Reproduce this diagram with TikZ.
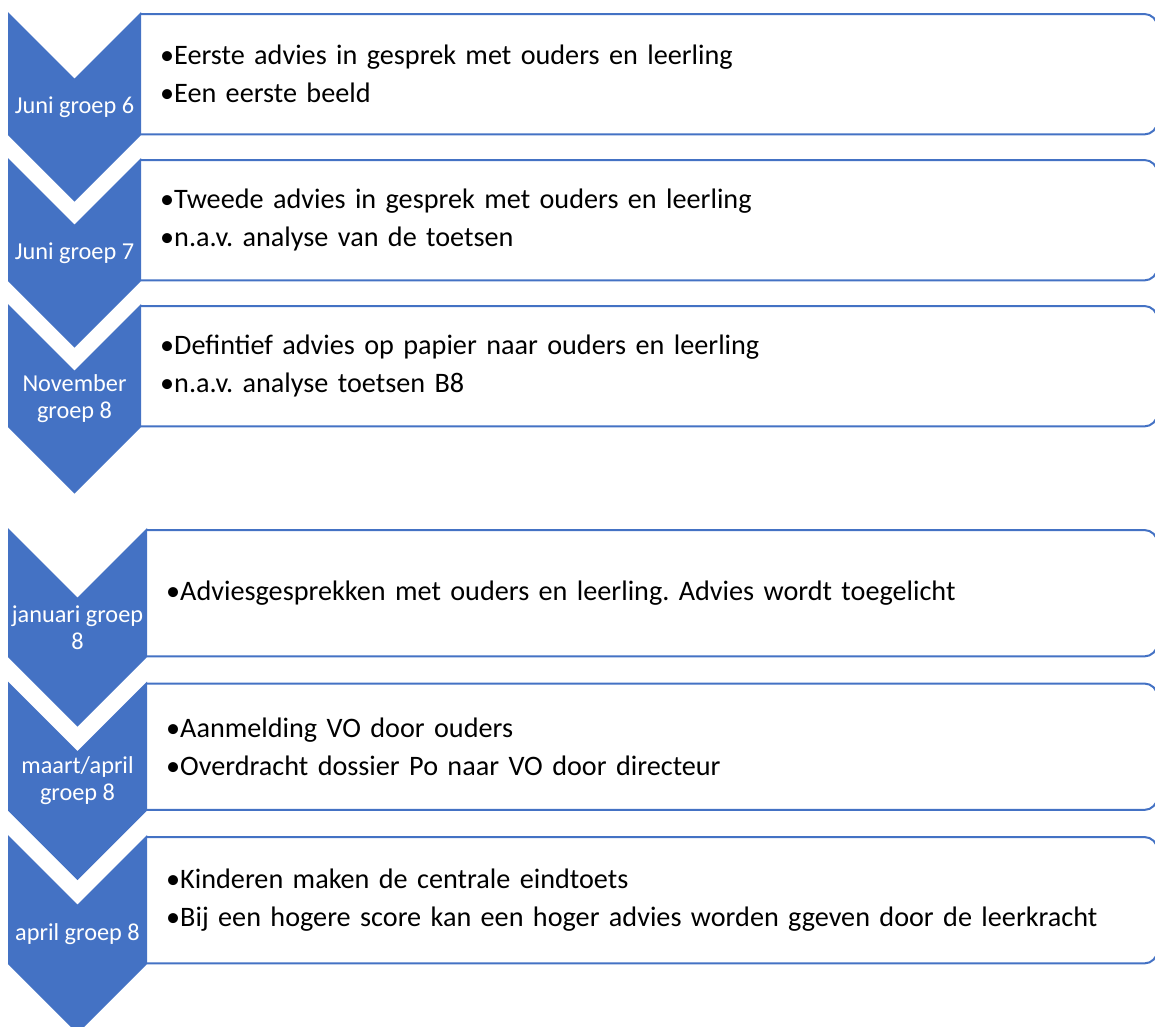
\documentclass[tikz,border=0pt]{standalone}
\usepackage{fontspec}
\setmainfont{Carlito}
\usepackage{tikz}
\frenchspacing

\definecolor{chevblue}{HTML}{4472C4}

\tikzset{
  chevtext/.style={text=white, align=center, inner sep=0pt,
    font=\fontsize{24.3}{27}\selectfont},
  chevfill/.style={fill=chevblue},
  itembox/.style={anchor=north west, inner xsep=19pt, inner ysep=0pt,
    minimum height=#1, text width=978pt, align=left,
    font=\fontsize{28.2}{38}\selectfont},
  boxline/.style={draw=chevblue, line width=2pt, rounded corners=13pt}
}

\begin{document}
\begin{tikzpicture}[x=1pt,y=-1pt]
        \useasboundingbox (0,0) rectangle (1155,1026);

        % First group of steps
        \foreach \i/\t/\lab/\items in {
            1/12/{Juni groep 6}/{•Eerste advies in gesprek met ouders en leerling\\•Een eerste beeld},
            2/158/{Juni groep 7}/{•Tweede advies in gesprek met ouders en leerling\\•n.a.v. analyse van de toetsen},
            3/304/{November\\groep 8}/{•Defintief advies op papier naar ouders en leerling\\•n.a.v. analyse toetsen B8}} {
            \node[itembox=120pt] (box\i) at (141,\t+2) {\items};
            \draw[boxline] (box\i.north west) -- (box\i.north east) -- (box\i.south east) -- (box\i.south west);
            \fill[chevfill] (8,\t) -- (74.5,\t+66.5) -- (141,\t) -- (141,\t+123)
                -- (74.5,\t+189.5) -- (8,\t+123) -- cycle;
            \node[chevtext] (lab\i) at (74.5,\t+94.75) {\lab};
        }

        % Second group of steps
        \foreach \i/\t/\lab/\items in {
            4/528/{januari groep\\8}/{•Adviesgesprekken met ouders en leerling. Advies wordt toegelicht},
            5/681.5/{maart/april\\groep 8}/{•Aanmelding VO door ouders\\•Overdracht dossier Po naar VO door directeur},
            6/835/{april groep 8}/{•Kinderen maken de centrale eindtoets\\•Bij een hogere score kan een hoger advies worden ggeven door de leerkracht}} {
            \node[itembox=126pt, text width=972pt] (box\i) at (147,\t+2) {\items};
            \draw[boxline] (box\i.north west) -- (box\i.north east) -- (box\i.south east) -- (box\i.south west);
            \fill[chevfill] (8,\t) -- (77.5,\t+69.5) -- (147,\t) -- (147,\t+129)
                -- (77.5,\t+198.5) -- (8,\t+129) -- cycle;
            \node[chevtext] (lab\i) at (77.5,\t+99.25) {\lab};
        }
\end{tikzpicture}
\end{document}
